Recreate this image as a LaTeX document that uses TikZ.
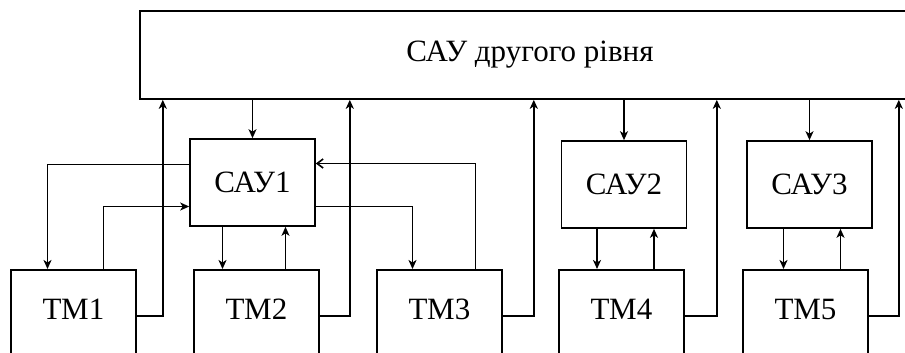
\documentclass[tikz,border=0pt]{standalone}
\usepackage{fontspec}
\setmainfont{Liberation Serif}
\usepackage{tikz}
\usetikzlibrary{positioning,arrows.meta,calc}
\tikzset{
  >={Stealth[length=9pt,width=8pt,inset=2.5pt]},
  blk/.style={draw,line width=1.6pt,rectangle,inner sep=0pt},
}

\begin{document}
\begin{tikzpicture}[
  x=1pt,y=-1pt,
  line width=1.6pt,
  every node/.style={font=\fontsize{31}{36}\selectfont},
  sau/.style={blk,minimum width=125pt,minimum height=87pt},
  tm/.style={blk,minimum width=125pt,text height=50pt,text depth=70pt,anchor=north}
]
\useasboundingbox (0,0) rectangle (905,353);
\clip (0,0) rectangle (905,353);

% upper level
\node[blk,minimum width=780pt,minimum height=88pt] (top) at (530,55) {САУ другого рівня};

% local controllers
\node[sau] (sau1) at (252.5,182.5) {САУ1};
\node[sau] (sau2) at (624,184.5) {САУ2};
\node[sau] (sau3) at (809.5,184.5) {САУ3};

% technological modules
\node[tm] (tm1) at (73.5,269) {ТМ1};
\node[tm] (tm2) at (256.5,269) {ТМ2};
\node[tm] (tm3) at (439.5,269) {ТМ3};
\node[tm] (tm4) at (621.5,269) {ТМ4};
\node[tm] (tm5) at (805.5,269) {ТМ5};

% top -> controllers
\foreach \s in {sau1,sau2,sau3}
  \draw[->] (top.south -| \s) -- (\s.north);

% modules -> top
\foreach \t/\d in {tm1/26,tm2/30,tm3/31,tm4/32,tm5/30}
  \draw[->] ([yshift=-47pt]\t.north east) -- ++(\d,0) coordinate (c\t) -- (c\t |- top.south);

% controller <-> own module
\foreach \s/\t/\a/\b in {sau1/tm2/-30/33,sau2/tm4/-27/30,sau3/tm5/-26/31}{
  \draw[->] ([xshift=\a pt]\s.south) -- ([xshift=\a pt]\s.south |- \t.north);
  \draw[->] ([xshift=\b pt]\s.south |- \t.north) -- ([xshift=\b pt]\s.south);
}

% САУ1 <-> ТМ1, ТМ3
\draw[->] ([yshift=18pt]sau1.west) -| ([xshift=-26pt]tm1.north);
\draw[->] ([xshift=30pt]tm1.north) |- ([yshift=-24pt]sau1.west);
\draw[-{Straight Barb[length=6pt,width=9pt]}] ([xshift=36pt]tm3.north) |- ([yshift=19pt]sau1.east);
\draw[->] ([yshift=-24pt]sau1.east) -| ([xshift=-27pt]tm3.north);

\end{tikzpicture}
\end{document}
